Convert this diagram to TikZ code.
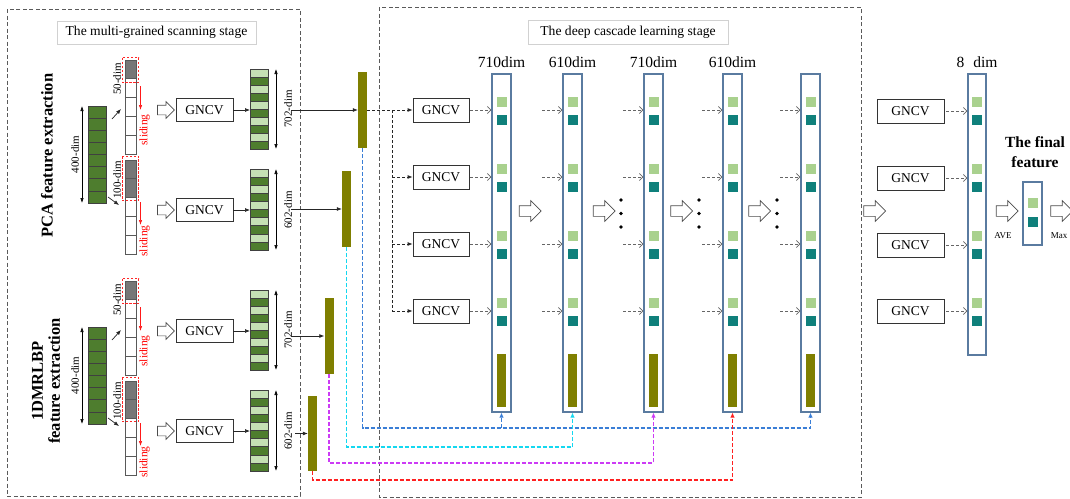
\documentclass[tikz,border=0pt]{standalone}
\usepackage{fontspec}
\setmainfont{Liberation Serif}
\usetikzlibrary{arrows.meta,shapes.arrows,calc}
\definecolor{dgreen}{HTML}{4E7D2E}
\definecolor{lgreen}{HTML}{C5E0B4}
\definecolor{oliveC}{HTML}{7F7F00}
\definecolor{sqL}{HTML}{A9D18E}
\definecolor{sqT}{HTML}{0F807B}
\definecolor{colB}{HTML}{5A7BA0}
\definecolor{cellG}{HTML}{777777}
\definecolor{dashG}{HTML}{5A5A5A}
\definecolor{lnBlue}{HTML}{3A7ED6}
\definecolor{lnCyan}{HTML}{14D8F0}
\definecolor{lnMag}{HTML}{CC3CF5}
\definecolor{lnRed}{HTML}{FF2020}
\tikzset{
  stagebox/.style={draw=dashG, line width=1pt, dash pattern=on 4pt off 2.5pt},
  titlebox/.style={draw=black!18, line width=0.9pt, fill=white, inner sep=0pt, font=\fontsize{13.6}{14}\selectfont},
  gncv/.style={draw=black!80, line width=0.8pt, fill=white, minimum width=57pt, minimum height=23.5pt, inner sep=0pt, font=\fontsize{13.5}{14}\selectfont},
  hit/.style={inner sep=0pt, outer sep=0pt},
  hollowS/.style={single arrow, draw=black!70, fill=white, line width=0.7pt, minimum height=17pt, text height=4.5pt, text depth=4.5pt, text width=0pt, single arrow head extend=3.5pt, inner sep=0pt},
  hollowL/.style={single arrow, draw=black!70, fill=white, line width=0.7pt, minimum height=22pt, text height=5pt, text depth=5pt, text width=0pt, single arrow head extend=5pt, inner sep=0pt},
  dcell/.style={fill=dgreen, draw=black!75, line width=0.6pt},
  lcell/.style={fill=lgreen, draw=black!75, line width=0.6pt},
  wcell/.style={draw=black!65, line width=0.7pt},
  dimarr/.style={{Latex[length=5pt,width=3.5pt]}-{Latex[length=5pt,width=3.5pt]}, line width=0.6pt, black},
  dimlbl/.style={rotate=90, inner sep=0pt, font=\fontsize{11}{11}\selectfont},
  slid/.style={rotate=90, inner sep=0pt, text=red, font=\fontsize{11.5}{12}\selectfont},
  reddash/.style={draw=red!85, line width=0.9pt, dash pattern=on 2.5pt off 1.5pt},
  redarr/.style={-{Latex[length=5pt,width=3.5pt]}, draw=red!90, line width=0.7pt},
  sarr/.style={-{Latex[length=5pt,width=4pt]}, line width=0.7pt, black!85},
  bdash/.style={black!85, line width=0.8pt, dash pattern=on 3pt off 2pt},
  gdash/.style={black!60, line width=0.8pt, dash pattern=on 3pt off 2pt, -{Straight Barb[length=3.5pt,width=7pt]}},
  obar/.style={fill=oliveC, inner sep=0pt, minimum width=9pt},
  colbox/.style={draw=colB, line width=1.1pt, minimum width=19pt, inner sep=0pt},
  cdash/.style={line width=1.1pt, dash pattern=on 4pt off 2pt, -{Latex[length=5pt,width=4.5pt]}},
  bigdim/.style={font=\fontsize{15.5}{16}\selectfont, inner sep=0pt},
  smalltxt/.style={font=\fontsize{9}{10}\selectfont, inner sep=0pt},
}
\begin{document}
\begin{tikzpicture}[x=1pt,y=-1pt]
\useasboundingbox (0,0) rectangle (1070,498);
% stage boxes
\draw[stagebox] (7,9) rectangle (300,496);
\draw[stagebox] (379,7) rectangle (861,497);
\node[titlebox, minimum width=199pt, minimum height=23pt] (t1) at (156.5,32.5) {The multi-grained scanning stage};
\node[titlebox, minimum width=200pt, minimum height=24pt] (t2) at (628,32) {The deep cascade learning stage};
% side labels
\node[rotate=90, font=\bfseries\fontsize{16.5}{17}\selectfont, inner sep=0pt] (pca) at (47,155.5) {PCA feature extraction};
\node[rotate=90, align=center, font=\bfseries\fontsize{16.5}{17}\selectfont, inner sep=0pt] (lbp) at (46,381) {1DMRLBP\\feature extraction};
% two scanning groups
\foreach \g/\dy in {p/0,m/221}{
\begin{scope}[shift={(0,\dy)}]
  \foreach \i in {0,...,7}
    \draw[dcell] (88,{106+\i*12.125}) rectangle ++(18,12.125);
  \node[hit, minimum width=18pt, minimum height=97pt] (in\g) at (97,154.5) {};
  \draw[dimarr] ([xshift=-6pt]in\g.north west) -- ([xshift=-6pt]in\g.south west);
  \node[dimlbl] (l400\g) at (75,154.5) {400-dim};
  % column A
  \fill[cellG] (125,60) rectangle (136,78.8);
  \foreach \i in {0,...,4}
    \draw[wcell] (125,{60+\i*18.8}) rectangle ++(11,18.8);
  \node[hit, minimum width=11pt, minimum height=94pt] (ca\g) at (130.5,107) {};
  \draw[reddash] (122,57.5) rectangle (138.5,82.5);
  \node[dimlbl] (l50\g) at (117,79) {50-dim};
  \draw[redarr] (140.5,86) -- (140.5,110);
  \node[slid] (sa\g) at (144.5,130) {sliding};
  % column B
  \fill[cellG] (125,160) rectangle (136,197.6);
  \foreach \i in {0,...,4}
    \draw[wcell] (125,{160+\i*18.8}) rectangle ++(11,18.8);
  \node[hit, minimum width=11pt, minimum height=94pt] (cb\g) at (130.5,207) {};
  \draw[reddash] (122,156) rectangle (138.5,200.5);
  \node[dimlbl] (l100\g) at (117,180) {100-dim};
  \draw[redarr] (140.5,202) -- (140.5,225);
  \node[slid] (sb\g) at (144.5,241) {sliding};
  % small arrows
  \draw[sarr] ([shift={(6,13)}]in\g.north east) -- ([shift={(-4,2)}]ca\g.west);
  \draw[sarr] ([shift={(2,-6)}]in\g.south east) -- ([shift={(-6,-2)}]cb\g.west);
  % hollow arrows and GNCV
  \node[hollowS] (ha\g) at (163.5,110) {};
  \node[hollowS] (hb\g) at (163.5,210) {};
  \node[gncv] (ga\g) at (204.5,110) {GNCV};
  \node[gncv] (gb\g) at (204.5,210) {GNCV};
  % output bars
  \foreach \i in {0,2,...,8} \draw[lcell] (250,{69+\i*8}) rectangle ++(18,8);
  \foreach \i in {1,3,...,9} \draw[dcell] (250,{69+\i*8}) rectangle ++(18,8);
  \foreach \i in {0,2,...,8} \draw[lcell] (250,{169+\i*8.1}) rectangle ++(18,8.1);
  \foreach \i in {1,3,...,9} \draw[dcell] (250,{169+\i*8.1}) rectangle ++(18,8.1);
  \node[hit, minimum width=18pt, minimum height=80pt] (oa\g) at (259,109) {};
  \node[hit, minimum width=18pt, minimum height=81pt] (ob\g) at (259,209.5) {};
  \draw[sarr] (ga\g.east) -- (ga\g.east -| oa\g.west);
  \draw[sarr] (gb\g.east) -- (gb\g.east -| ob\g.west);
  \draw[dimarr] ([xshift=8pt]oa\g.north east) -- ([xshift=8pt]oa\g.south east);
  \draw[dimarr] ([xshift=8pt]ob\g.north east) -- ([xshift=8pt]ob\g.south east);
  \node[dimlbl] (l702\g) at (288,109) {702-dim};
  \node[dimlbl] (l602\g) at (288,210) {602-dim};
\end{scope}
}
% olive bars
\node[obar, minimum height=76pt] (ob1) at (362.5,110) {};
\node[obar, minimum height=76pt] (ob2) at (346.5,209) {};
\node[obar, minimum height=76pt] (ob3) at (329,336) {};
\node[obar, minimum height=75pt] (ob4) at (312.5,433.5) {};
\coordinate (s1) at (291,110);
\coordinate (s2) at (291,209);
\coordinate (s3) at (291,336);
\coordinate (s4) at (295,433.5);
\foreach \k in {1,...,4} \draw[sarr] (s\k) -- (s\k -| ob\k.west);
% middle GNCV
\foreach \k/\y in {1/110,2/177,3/244,4/311}
  \node[gncv, minimum width=56pt, minimum height=24pt] (m\k) at (441,\y) {GNCV};
\draw[bdash, -{Latex[length=5pt,width=4pt]}] (ob1.east) -- (m1.west);
\coordinate (j) at (392,110);
\draw[bdash] (j) -- (j |- m4.west);
\foreach \k in {2,3,4} \draw[bdash, -{Latex[length=5pt,width=4pt]}] (j |- m\k.west) -- (m\k.west);
% cascade columns
\foreach \c/\x in {1/501.5,2/572.5,3/653.5,4/732.5,5/810.5}{
  \node[colbox, minimum height=338pt] (c\c) at (\x,243) {};
  \foreach \k in {0,...,3}{
    \fill[sqL] ({\x-5},{97+67*\k}) rectangle ++(10,10);
    \fill[sqT] ({\x-5},{115+67*\k}) rectangle ++(10,10);
  }
  \fill[oliveC] ({\x-4.5},354) rectangle ++(9,53);
}
\node[bigdim] (d1) at (501.5,62) {710dim};
\node[bigdim] (d2) at (572.5,62) {610dim};
\node[bigdim] (d3) at (653.5,62) {710dim};
\node[bigdim] (d4) at (732.5,62) {610dim};
\foreach \k in {1,...,4} \draw[gdash] ([xshift=1pt]m\k.east) -- (m\k.east -| c1.west);
\foreach \c in {2,...,5}
  \foreach \k in {1,...,4}
    \draw[gdash] ($(m\k.east -| c\c.west)+(-20,0)$) -- (m\k.east -| c\c.west);
% hollow arrows and dots
\node[hollowL] (h1) at (527.5,211) {};
\node[hollowL] (h2) at (601.5,211) {};
\node[hollowL] (h3) at (679,211) {};
\node[hollowL] (h4) at (757,211) {};
\node[hollowL] (h5) at (872,211) {};
\foreach \x in {621,699,777}
  \foreach \y in {200,213.5,227}
    \fill (\x,\y) circle (1.9);
% right GNCV and 8 dim column
\foreach \k/\y in {1/111,2/178,3/245,4/311}
  \node[gncv, minimum width=67pt, minimum height=24pt] (r\k) at (910.5,\y) {GNCV};
\node[colbox, minimum width=18pt, minimum height=281pt] (d8) at (977,214.5) {};
\foreach \k in {0,...,3}{
  \fill[sqL] (972,{97+67*\k}) rectangle ++(10,10);
  \fill[sqT] (972,{115+67*\k}) rectangle ++(10,10);
}
\foreach \k in {1,...,4} \draw[gdash] ([xshift=2pt]r\k.east) -- (r\k.east -| d8.west);
\node[bigdim] (d8l) at (977,62) {8\hspace{9pt}dim};
% final feature
\node[align=center, font=\bfseries\fontsize{15.5}{20}\selectfont, inner sep=0pt] (ff) at (1035,152) {The final\\feature};
\node[colbox, minimum height=63pt] (fc) at (1032.5,213.5) {};
\fill[sqL] (1028,198) rectangle ++(10,10);
\fill[sqT] (1028,217) rectangle ++(10,10);
\node[hollowL] (ha) at (1004.5,211) {};
\node[hollowL] (hm) at (1059,211) {};
\node[smalltxt] (ave) at (1003,236) {AVE};
\node[smalltxt] (mx) at (1059,236) {Max};
% coloured feedback connectors
\draw[cdash, draw=lnBlue] (ob1.south) -- (ob1.south |- 0,428) -- (c5.south |- 0,428) -- (c5.south);
\draw[cdash, draw=lnBlue] (c1.south |- 0,428) -- (c1.south);
\draw[cdash, draw=lnCyan] (ob2.south) -- (ob2.south |- 0,447) -- (c2.south |- 0,447) -- (c2.south);
\draw[cdash, draw=lnMag] (ob3.south) -- (ob3.south |- 0,463) -- (c3.south |- 0,463) -- (c3.south);
\draw[cdash, draw=lnRed] (ob4.south) -- (ob4.south |- 0,480) -- (c4.south |- 0,480) -- (c4.south);
\end{tikzpicture}
\end{document}
